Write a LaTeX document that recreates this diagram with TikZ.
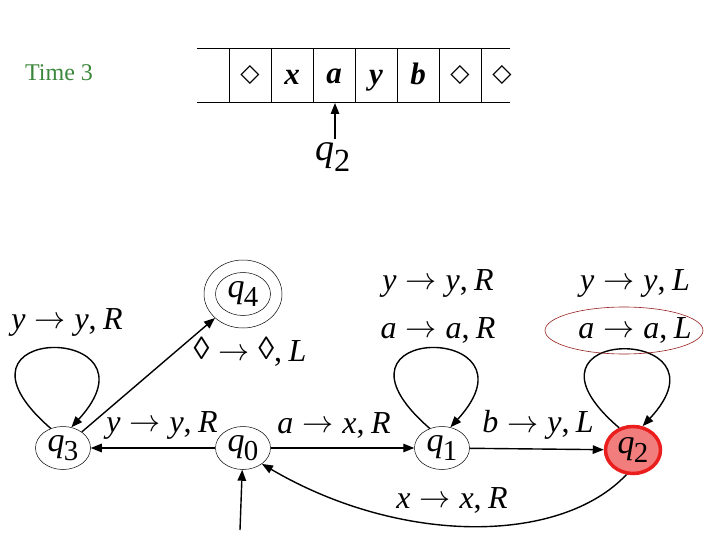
\documentclass[tikz,border=0pt]{standalone}
\usepackage{fontspec}
\setmainfont{Liberation Serif}
\newfontfamily\symfont{DejaVu Sans}
\usetikzlibrary{arrows.meta,shapes.geometric,calc}
\definecolor{timegreen}{RGB}{60,135,60}
\definecolor{nodered}{RGB}{235,30,30}
\definecolor{nodefill}{RGB}{242,125,125}
\definecolor{ovalred}{RGB}{150,30,30}
\newcommand{\qq}[1]{\textit{q}\kern-0.02em\raisebox{-0.28em}{\scalebox{0.85}{#1}}}
\newcommand{\arr}{\hspace{0.28em}\raisebox{0.02em}{\scalebox{1.25}{$\rightarrow$}}\hspace{0.28em}}
\newcommand{\tr}[3]{#1\arr#2,\hspace{0.2em}\textit{#3}}
\newcommand{\lz}{\raisebox{0.05em}{◊}}
\begin{document}
\begin{tikzpicture}[x=1pt,y=-1pt,
  state/.style={ellipse,draw,line width=0.5pt,minimum width=55pt,minimum height=43pt,inner sep=0pt,font=\fontsize{34}{34}\selectfont},
  lbl/.style={font=\fontsize{32}{32}\selectfont,inner sep=0pt},
  edge/.style={line width=1.4pt,-{Triangle[length=11pt,width=8.5pt]}},
  tape/.style={line width=0.6pt},
  cell/.style={font=\fontsize{31}{31}\selectfont\bfseries\itshape,inner sep=0pt},
  dcell/.style={font=\symfont\fontsize{25}{25}\selectfont,inner sep=0pt}]
\useasboundingbox (0,0) rectangle (720,540);
% tape
\draw[tape] (197,48) -- (510,48);
\draw[tape] (197,102) -- (510,102);
\foreach \x in {229,271,313,355,397,439,481} \draw[tape] (\x,48) -- (\x,102);
\node[dcell] (c1) at (250,75) {◇};
\node[cell] (c2) at (292,77) {x};
\node[cell] (c3) at (334,76) {a};
\node[cell] (c4) at (376,81) {y};
\node[cell] (c5) at (418,74) {b};
\node[dcell] (c6) at (460,75) {◇};
\node[dcell] (c7) at (502,75) {◇};
\coordinate (head) at (335,103);
\node[font=\fontsize{38}{38}\selectfont,inner sep=0pt] (hq) at (333,157) {\qq{2}};
\draw[line width=1.4pt,-{Triangle[length=11pt,width=8.5pt]}] (335,139) -- (head);
\node[text=timegreen,font=\fontsize{24}{24}\selectfont,inner sep=0pt] (time) at (59,73) {Time 3};
% states
\node[state] (q3) at (63,448) {\qq{3}};
\node[state] (q0) at (243,448) {\qq{0}};
\node[state] (q1) at (442,448) {\qq{1}};
\node[state,draw=nodered,line width=3.5pt,fill=nodefill,minimum width=55pt,minimum height=47pt] (q2) at (633,450) {\qq{2}};
\node[state,minimum width=78pt,minimum height=68pt] (q4) at (243,294) {};
\node[state] (q4in) at (243,294) {\qq{4}};
% edges
\draw[edge] (q0) -- (q3);
\draw[edge] (q0) -- (q1);
\draw[edge] (q1) -- (q2);
\draw[edge] (q3) -- (q4);
\coordinate (start) at (240,530);
\draw[edge] (start) -- (q0);
\draw[edge] (q2.255) .. controls (560,545) and (400,545) .. (q0.-40);
% loops
\foreach \n in {q3,q1,q2}
  \draw[edge] (\n.122) .. controls ($(\n)+(-135,-126)$) and ($(\n)+(105,-126)$) .. (\n.68);
% labels
\node[lbl] (l3) at (67,322) {\tr{\textit{y}}{\textit{y}}{R}};
\node[lbl] (l4) at (250,352) {\tr{\lz}{\lz}{L}};
\node[lbl] (l03) at (162,425) {\tr{\textit{y}}{\textit{y}}{R}};
\node[lbl] (l01) at (334,425) {\tr{\textit{a}}{\textit{x}}{R}};
\node[lbl] (l1a) at (438,283) {\tr{\textit{y}}{\textit{y}}{R}};
\node[lbl] (l1b) at (438,330) {\tr{\textit{a}}{\textit{a}}{R}};
\node[lbl] (l12) at (538,425) {\tr{\textit{b}}{\textit{y}}{L}};
\node[lbl] (l2a) at (635,283) {\tr{\textit{y}}{\textit{y}}{L}};
\node[lbl] (l2b) at (635,330) {\tr{\textit{a}}{\textit{a}}{L}};
\node[lbl] (l20) at (452,500) {\tr{\textit{x}}{\textit{x}}{R}};
\draw[ovalred,line width=0.6pt] (624,330.5) ellipse [x radius=79, y radius=23.5];
\end{tikzpicture}
\end{document}
